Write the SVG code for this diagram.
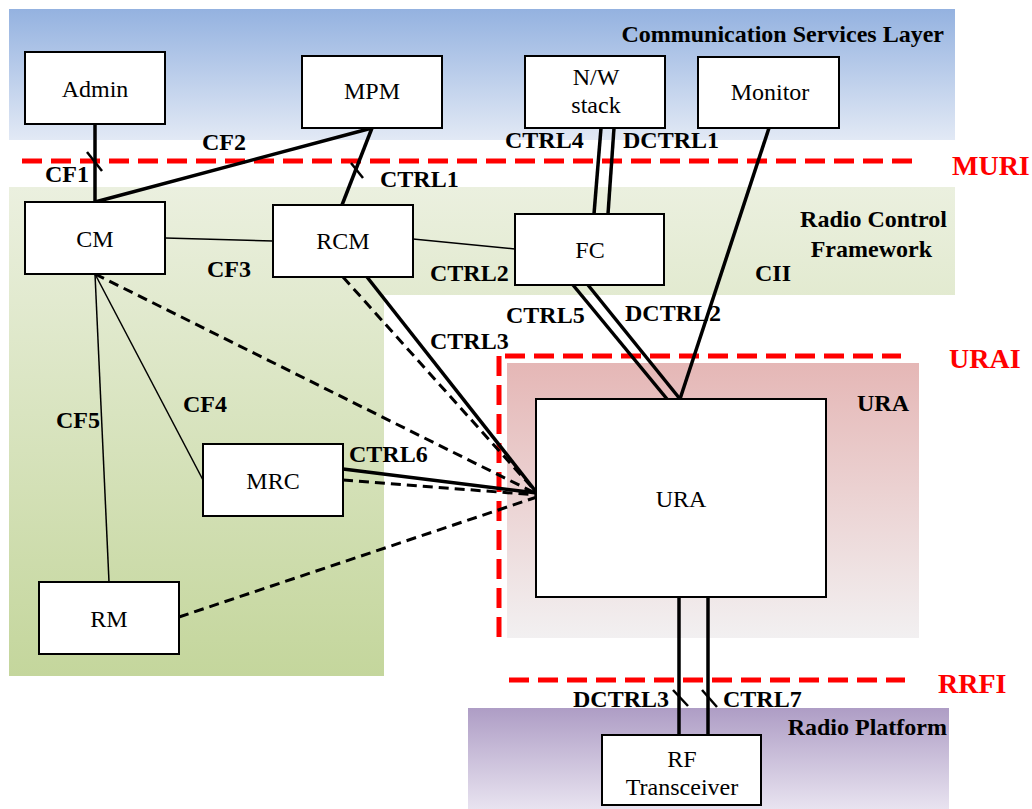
<svg xmlns="http://www.w3.org/2000/svg" width="1032" height="809" viewBox="0 0 1032 809" font-family="'Liberation Serif', 'Times New Roman', serif">
<defs>
<linearGradient id="gBlue" x1="0" y1="0" x2="0" y2="1"><stop offset="0" stop-color="#94b2e0"/><stop offset="1" stop-color="#e2e9f5"/></linearGradient>
<linearGradient id="gGreen" x1="0" y1="0" x2="0" y2="1"><stop offset="0" stop-color="#ebf0df"/><stop offset="1" stop-color="#c4d69c"/></linearGradient>
<linearGradient id="gPink" x1="0" y1="0" x2="0" y2="1"><stop offset="0" stop-color="#e5b7b6"/><stop offset="1" stop-color="#f2f0f1"/></linearGradient>
<linearGradient id="gPurple" x1="0" y1="0" x2="0" y2="1"><stop offset="0" stop-color="#ae9dc5"/><stop offset="1" stop-color="#e8e3f0"/></linearGradient>
<style>
text{font-family:'Liberation Serif','Times New Roman',serif}
.box{fill:#fff;stroke:#000;stroke-width:2}
.nt{font-size:24px;fill:#000;text-anchor:middle}
.lb{font-size:24px;font-weight:bold;fill:#000}
.rl{font-size:28px;font-weight:bold;fill:#ff0000}
.red{stroke:#ff0000;stroke-width:5;stroke-dasharray:20,9;fill:none}
.thick{stroke:#000;stroke-width:3.5;fill:none}
.tick{stroke:#000;stroke-width:2.5;fill:none}
.thin{stroke:#000;stroke-width:1.5;fill:none}
.dash{stroke:#000;stroke-width:3;stroke-dasharray:10,6;fill:none}
</style>
</defs>
<g id="background">
<rect x="9" y="9" width="946" height="131" fill="url(#gBlue)"/>
<path d="M9 187 H955 V295 H384 V676 H9 Z" fill="url(#gGreen)"/>
<rect x="507" y="363" width="412" height="275" fill="url(#gPink)"/>
<rect x="468" y="708" width="481" height="101" fill="url(#gPurple)"/>
<text class="lb" x="944" y="42" text-anchor="end">Communication Services Layer</text>
<text class="lb" x="947" y="227" text-anchor="end">Radio Control</text>
<text class="lb" x="932" y="257" text-anchor="end">Framework</text>
<text class="lb" x="909" y="411" text-anchor="end">URA</text>
<text class="lb" x="947" y="735" text-anchor="end">Radio Platform</text>
</g>
<g id="interfaces">
<line class="red" x1="22" y1="161" x2="914" y2="161"/>
<line class="red" x1="505" y1="356" x2="901" y2="356"/>
<line class="red" x1="499" y1="356" x2="499" y2="640"/>
<line class="red" x1="509" y1="680" x2="905" y2="680"/>
<text class="rl" x="952" y="175">MURI</text>
<text class="rl" x="949" y="368">URAI</text>
<text class="rl" x="938" y="693">RRFI</text>
</g>
<g id="connectors">
<line class="thick" x1="95" y1="124" x2="95" y2="202"/>
<line class="tick" x1="87" y1="152" x2="102" y2="171"/>
<line class="thick" x1="95" y1="202" x2="372" y2="128"/>
<line class="thick" x1="372" y1="128" x2="342" y2="205"/>
<line class="tick" x1="351" y1="163" x2="363" y2="178"/>
<line class="thin" x1="165" y1="238" x2="273" y2="241"/>
<line class="thin" x1="413" y1="239" x2="515" y2="249"/>
<line class="thick" x1="601" y1="128" x2="594" y2="214"/>
<line class="thick" x1="614" y1="128" x2="608" y2="214"/>
<line class="thick" x1="769" y1="128" x2="680" y2="399"/>
<line class="thick" x1="573" y1="285" x2="667" y2="399"/>
<line class="thick" x1="588" y1="285" x2="680" y2="399"/>
<line class="thick" x1="367" y1="277" x2="537" y2="493"/>
<line class="dash" x1="343" y1="277" x2="537" y2="493"/>
<line class="dash" x1="95" y1="274" x2="537" y2="494"/>
<line class="thin" x1="95" y1="274" x2="203" y2="480"/>
<line class="thin" x1="95" y1="274" x2="109" y2="582"/>
<line class="thick" x1="343" y1="469" x2="537" y2="493"/>
<line class="dash" x1="343" y1="480" x2="537" y2="495"/>
<line class="dash" x1="179" y1="617" x2="537" y2="497"/>
<line class="thick" x1="679" y1="593" x2="679" y2="735"/>
<line class="thick" x1="708" y1="597" x2="708" y2="735"/>
<line class="tick" x1="673" y1="690" x2="688" y2="706"/>
<line class="tick" x1="702" y1="690" x2="717" y2="707"/>
<text class="lb" x="202" y="150">CF2</text>
<text class="lb" x="45" y="182">CF1</text>
<text class="lb" x="380" y="187">CTRL1</text>
<text class="lb" x="505" y="148">CTRL4</text>
<text class="lb" x="623" y="148">DCTRL1</text>
<text class="lb" x="207" y="277">CF3</text>
<text class="lb" x="430" y="281">CTRL2</text>
<text class="lb" x="755" y="281">CII</text>
<text class="lb" x="506" y="323">CTRL5</text>
<text class="lb" x="625" y="321">DCTRL2</text>
<text class="lb" x="430" y="349">CTRL3</text>
<text class="lb" x="183" y="412">CF4</text>
<text class="lb" x="56" y="428">CF5</text>
<text class="lb" x="349" y="462">CTRL6</text>
<text class="lb" x="573" y="707">DCTRL3</text>
<text class="lb" x="723" y="707">CTRL7</text>
</g>
<g id="node-admin"><rect class="box" x="25" y="52" width="140" height="72"/><text class="nt" x="95" y="97">Admin</text></g>
<g id="node-mpm"><rect class="box" x="302" y="56" width="140" height="72"/><text class="nt" x="372" y="99">MPM</text></g>
<g id="node-nwstack"><rect class="box" x="525" y="56" width="140" height="72"/><text class="nt" x="596" y="85">N/W</text><text class="nt" x="596" y="113">stack</text></g>
<g id="node-monitor"><rect class="box" x="698" y="57" width="141" height="71"/><text class="nt" x="770" y="100">Monitor</text></g>
<g id="node-cm"><rect class="box" x="25" y="202" width="140" height="72"/><text class="nt" x="95" y="247">CM</text></g>
<g id="node-rcm"><rect class="box" x="273" y="205" width="140" height="72"/><text class="nt" x="343" y="249">RCM</text></g>
<g id="node-fc"><rect class="box" x="515" y="214" width="149" height="71"/><text class="nt" x="590" y="258">FC</text></g>
<g id="node-mrc"><rect class="box" x="203" y="444" width="140" height="72"/><text class="nt" x="273" y="489">MRC</text></g>
<g id="node-rm"><rect class="box" x="39" y="582" width="140" height="72"/><text class="nt" x="109" y="627">RM</text></g>
<g id="node-ura"><rect class="box" x="536" y="399" width="290" height="198"/><text class="nt" x="681" y="507">URA</text></g>
<g id="node-rf"><rect class="box" x="602" y="735" width="159" height="70"/><text class="nt" x="682" y="767">RF</text><text class="nt" x="682" y="795">Transceiver</text></g>
</svg>
